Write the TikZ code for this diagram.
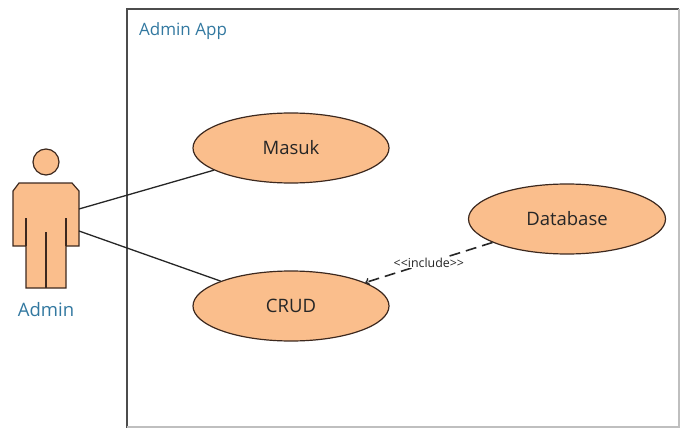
\documentclass[tikz,border=0pt]{standalone}
\usepackage{fontspec}
\usetikzlibrary{shapes.geometric}
\setmainfont{Open Sans}
\definecolor{orangefill}{RGB}{250,190,140}
\definecolor{label}{RGB}{50,120,160}
\definecolor{edge}{RGB}{60,40,30}
\begin{document}
\begin{tikzpicture}[x=1pt, y=-1pt, >=to,
  usecase/.style={draw=edge, fill=orangefill, ellipse, line width=1.2pt, minimum width=196pt, minimum height=70pt, inner sep=0pt, text=black!85, font=\fontsize{18.5}{22}\selectfont},
  title/.style={text=label, font=\fontsize{17}{20}\selectfont, inner sep=0pt}]
\useasboundingbox (0,0) rectangle (680,428);
%System
\draw[line width=1.4pt, color=black!70] (127,428) -- (127,9) -- (679,9);
\draw[line width=1.4pt, color=black!25] (679,9) -- (679,427) -- (127,427);

%Akteur
\draw[edge, fill=orangefill, line width=1.2pt] (46,162) circle (13);
\draw[edge, fill=orangefill, line width=1.2pt] (19,183) -- (72,183) -- (79,191) -- (79,246) -- (66,246) -- (66,288) -- (26,288) -- (26,246) -- (13,246) -- (13,191) -- cycle;
\draw[edge, line width=1.2pt] (26,218) -- (26,246);
\draw[edge, line width=1.2pt] (66,218) -- (66,246);
\draw[edge, line width=1.2pt] (46,232) -- (46,288);
\coordinate (admin1) at (79,209);
\coordinate (admin2) at (79,231);

\node[title, font=\fontsize{18.5}{22}\selectfont] (adminlabel) at (46,310) {Admin};
\node[title, anchor=west] (applabel) at (139,31) {Admin App};

\node[usecase] (masuk) at (291,148) {Masuk};
\node[usecase] (crud) at (291,306) {CRUD};
\node[usecase, minimum width=197pt] (database) at (567,219) {Database};

%Verbindungen
\draw[line width=1.3pt, black!85] (admin1) -- (masuk);
\draw[line width=1.3pt, black!85] (admin2) -- (crud);
\draw[line width=1.6pt, dash pattern=on 11pt off 6pt, ->, black!85] (database) -- node[fill=white, inner sep=1pt, text=black!85, font=\fontsize{12.4}{14}\selectfont, pos=.5] (include) {<{}<include>{}>} (crud);
\end{tikzpicture}
\end{document}
